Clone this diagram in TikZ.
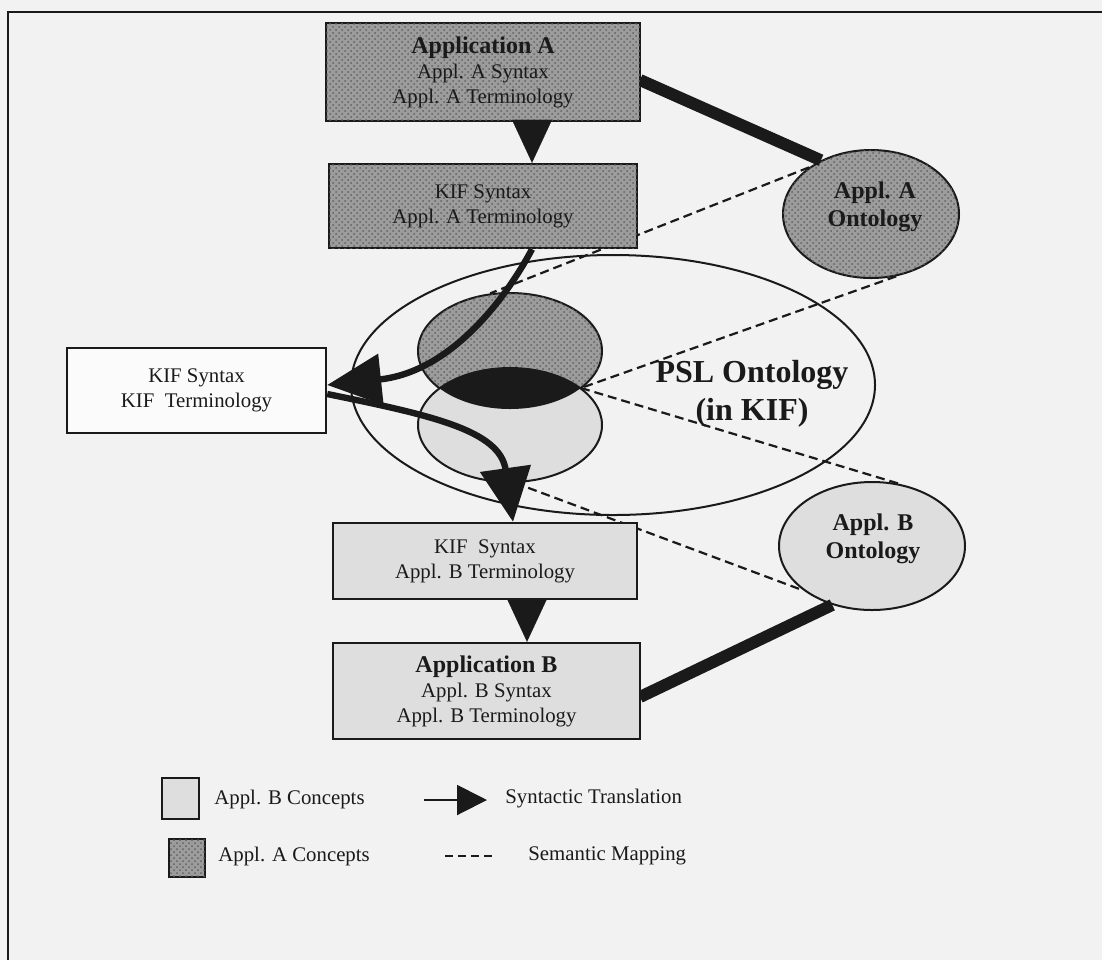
\documentclass[tikz,border=0pt]{standalone}
\usepackage{fontspec}
\setmainfont{Liberation Serif}
\usetikzlibrary{arrows.meta,patterns,shapes.geometric}
\definecolor{bgc}{HTML}{F2F2F2}
\definecolor{aco}{HTML}{9C9C9C}
\definecolor{acodark}{HTML}{626262}
\definecolor{bco}{HTML}{DEDEDE}
\definecolor{ink}{HTML}{1A1A1A}
\begin{document}
\begin{tikzpicture}[x=0.5pt,y=-0.5pt,
  every node/.style={text=ink},
  afill/.style={fill=aco, postaction={pattern=crosshatch dots, pattern color=acodark}},
  bfill/.style={fill=bco},
  box/.style={draw=ink, line width=1.2pt, rectangle, inner sep=0pt, align=center, font=\fontsize{10.4pt}{12.5pt}\selectfont},
  ontoshape/.style={draw=ink, line width=1pt, ellipse, inner sep=0pt},
  ontotext/.style={align=center, inner sep=0pt, font=\fontsize{12pt}{14pt}\selectfont\bfseries},
  semmap/.style={draw=ink, line width=1.1pt, dash pattern=on 4.5pt off 2.5pt},
  ontolink/.style={draw=ink, line width=6pt},
  synarrow/.style={draw=ink, fill=ink, line width=0.1pt, -{Triangle[length=21.5pt,width=20pt]}},
  curvearrow/.style={draw=ink, line width=3.2pt, -{Triangle[length=27pt,width=25pt]}},
  legtext/.style={anchor=west, inner sep=0pt, font=\fontsize{10.4pt}{12pt}\selectfont},
]
% background and frame
\fill[bgc] (0,0) rectangle (1102,960);
\useasboundingbox (0,0) rectangle (1102,960);
\coordinate (fr1) at (8,960);
\coordinate (fr2) at (8,12);
\coordinate (fr3) at (1102,12);
\draw[ink, line width=1pt] (fr1) -- (fr2) -- (fr3);

% PSL ontology
\node[draw=ink, line width=1pt, ellipse, inner sep=0pt, minimum width=262pt, minimum height=130pt] (psl) at (613,385) {};
\node[align=center, inner sep=0pt, font=\fontsize{16pt}{19pt}\selectfont\bfseries] (psltext) at (752,394) {PSL Ontology\\(in KIF)};

% concept ellipses
\node[ontoshape, afill, minimum width=92pt, minimum height=58pt] (ellA) at (510,351) {};
\node[ontoshape, bfill, minimum width=92pt, minimum height=57pt] (ellB) at (510,425) {};
\begin{scope}
  \clip (510,351) ellipse [x radius=92, y radius=58];
  \fill[ink] (510,425) ellipse [x radius=92, y radius=57];
\end{scope}
\coordinate (isect) at (581,388);

% ontology ellipses
\node[ontoshape, afill, minimum width=88pt, minimum height=64pt] (ontA) at (871,214) {};
\node[ontotext] (ontAtext) at (875,207) {Appl. A\\Ontology};
\node[ontoshape, bfill, minimum width=93pt, minimum height=64pt] (ontB) at (872,546) {};
\node[ontotext] (ontBtext) at (873,539) {Appl. B\\Ontology};

% semantic mappings (dashed)
\draw[semmap] (ontA.143) -- (ellA.109);
\draw[semmap] (ontA.292) -- (isect);
\draw[semmap] (isect) -- (ontB.66);
\draw[semmap] (ellB.275) -- (ontB.213);

% thick links to ontologies
\coordinate (appAlink) at (640,80);
\coordinate (appBlink) at (640,697);
\draw[ontolink] (appAlink) -- (ontA.133);
\draw[ontolink] (appBlink) -- (ontB.236);

% boxes
\node[box, afill, minimum width=157pt, minimum height=49pt] (appA) at (483,72)
  {{\fontsize{12pt}{14pt}\selectfont\bfseries Application A}\\Appl. A Syntax\\Appl. A Terminology};
\node[box, afill, minimum width=154pt, minimum height=42pt] (kifA) at (483,206)
  {KIF Syntax\\Appl. A Terminology};
\node[box, fill=white!70!bgc, minimum width=129.5pt, minimum height=42.5pt] (kifL) at (196.5,390.5)
  {KIF Syntax\\KIF\ \ Terminology};
\node[box, bfill, minimum width=152pt, minimum height=38pt] (kifB) at (485,561)
  {KIF\ \ Syntax\\Appl. B Terminology};
\node[box, bfill, minimum width=153.5pt, minimum height=48pt] (appB) at (486.5,691)
  {{\fontsize{12pt}{14pt}\selectfont\bfseries Application B}\\Appl. B Syntax\\Appl. B Terminology};

% syntactic translations
\draw[synarrow] ([xshift=24.5pt]appA.south) -- ([xshift=24.5pt]kifA.north);
\draw[synarrow] ([xshift=21pt]kifB.south) -- ([xshift=21pt]kifB.south |- appB.north);
\draw[curvearrow] ([xshift=24.5pt]kifA.south) .. controls (505,300) and (450,372) .. ([yshift=2.75pt]kifL.east);
\draw[curvearrow] ([yshift=-1.75pt]kifL.east) .. controls (430,415) and (500,430) .. ([xshift=14pt]kifB.north);

% legend
\node[draw=ink, line width=1pt, bfill, minimum width=18.5pt, minimum height=20.5pt, inner sep=0pt] (legB) at (180.5,798.5) {};
\node[legtext] (legBtext) at (214,799) {Appl. B Concepts};
\node[draw=ink, line width=1pt, afill, minimum width=18pt, minimum height=19pt, inner sep=0pt] (legA) at (187,858) {};
\node[legtext] (legAtext) at (218,856) {Appl. A Concepts};
\coordinate (la1) at (424,800);
\coordinate (la2) at (487,800);
\draw[draw=ink, fill=ink, line width=1pt, -{Triangle[length=15pt,width=15pt]}] (la1) -- (la2);
\node[legtext] (legStext) at (505,799) {Syntactic Translation};
\coordinate (lm1) at (445,856);
\coordinate (lm2) at (493,856);
\draw[ink, line width=1.1pt, dash pattern=on 4pt off 2.5pt] (lm1) -- (lm2);
\node[legtext] (legMtext) at (528,856) {Semantic Mapping};
\end{tikzpicture}
\end{document}
